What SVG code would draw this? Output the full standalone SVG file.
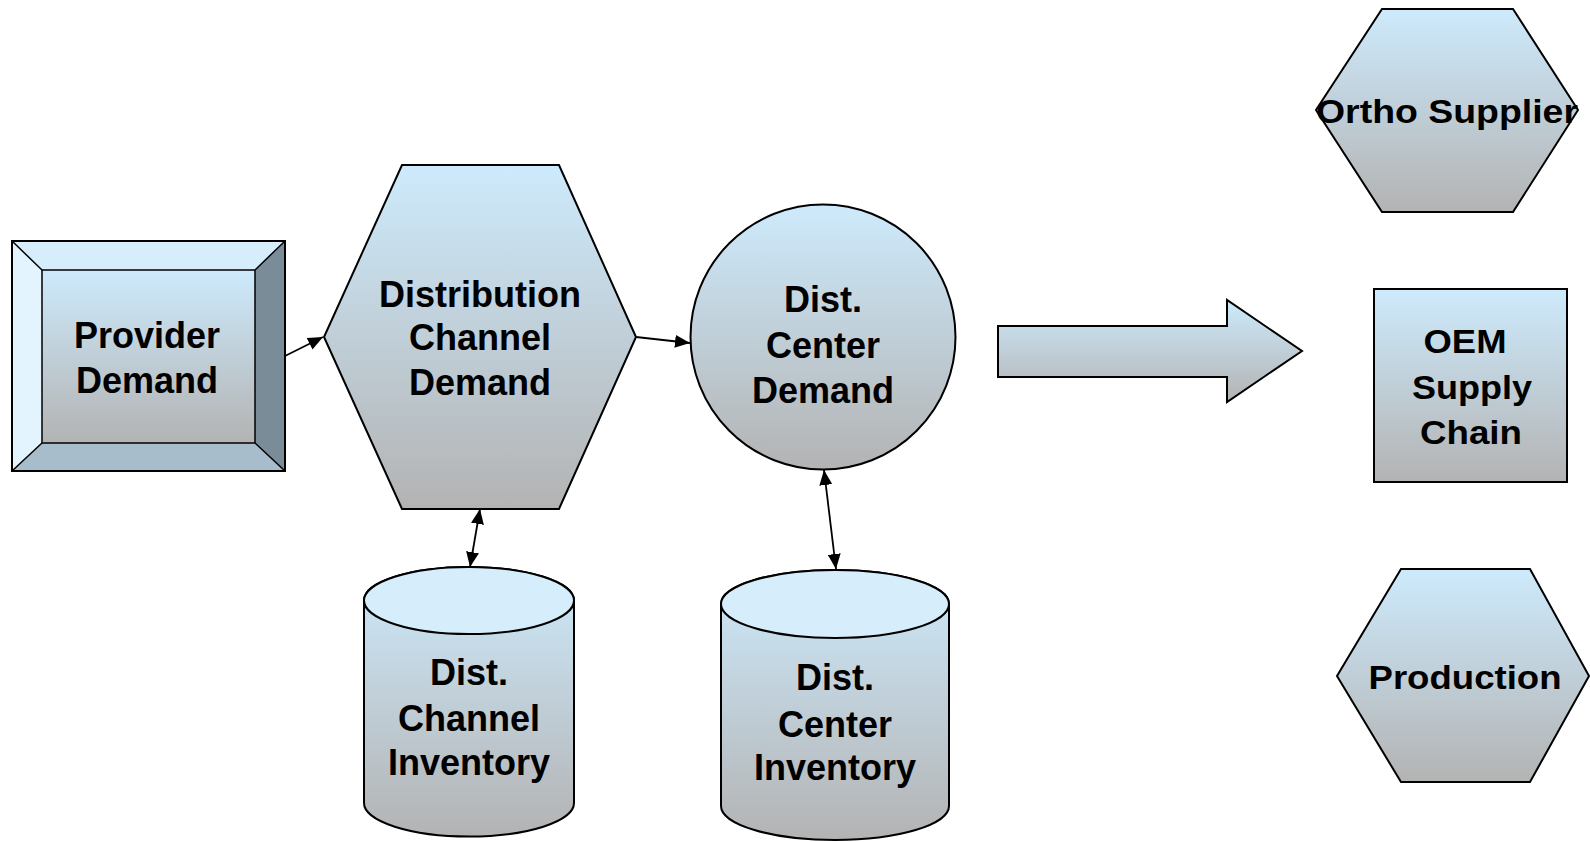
<svg xmlns="http://www.w3.org/2000/svg" width="1590" height="842" viewBox="0 0 1590 842">
<defs>
<linearGradient id="g" x1="0" y1="0" x2="0" y2="1">
<stop offset="0" stop-color="#cdeafc"/>
<stop offset="1" stop-color="#b3b3b3"/>
</linearGradient>
<marker id="ah" viewBox="0 0 15 13" refX="15" refY="6.5" markerWidth="15" markerHeight="13" markerUnits="userSpaceOnUse" orient="auto-start-reverse">
<path d="M0,0 L15,6.5 L0,13 Z" fill="#000"/>
</marker>
<style>
.s{fill:url(#g);stroke:#000;stroke-width:2}
.t{font-family:"Liberation Sans",Arial,sans-serif;font-weight:bold;font-size:36px;fill:#000;text-anchor:middle}
.r{font-size:34px}
.c{fill:none;stroke:#000;stroke-width:1.8}
</style>
</defs>
<rect width="1590" height="842" fill="#fff"/>
<g id="provider-demand">
<polygon points="12,241 285,241 255,270 42,270" fill="#d6edfb"/>
<polygon points="12,241 42,270 42,443 12,471" fill="#e3f4fe"/>
<polygon points="285,241 285,471 255,443 255,270" fill="#7a8c97"/>
<polygon points="12,471 42,443 255,443 285,471" fill="#a7bdcc"/>
<rect x="42" y="270" width="213" height="173" fill="url(#g)"/>
<rect x="12" y="241" width="273" height="230" fill="none" stroke="#000" stroke-width="2"/>
<rect x="42" y="270" width="213" height="173" fill="none" stroke="#000" stroke-width="1.5"/>
<path d="M12,241 L42,270 M285,241 L255,270 M12,471 L42,443 M285,471 L255,443" stroke="#000" stroke-width="1.5"/>
<text class="t" x="147" y="348">Provider</text>
<text class="t" x="147" y="393">Demand</text>
</g>
<g id="distribution-channel-demand">
<polygon class="s" points="402,165 559,165 636,337 559,509 402,509 324,337"/>
<text class="t" x="480" y="307">Distribution</text>
<text class="t" x="480" y="350">Channel</text>
<text class="t" x="480" y="395">Demand</text>
</g>
<g id="dist-center-demand">
<circle class="s" cx="823" cy="337" r="132.5"/>
<text class="t" x="823" y="312">Dist.</text>
<text class="t" x="823" y="358">Center</text>
<text class="t" x="823" y="403">Demand</text>
</g>
<g id="dist-channel-inventory">
<path class="s" d="M364,600.5 L364,803 A105,33.5 0 0 0 574,803 L574,600.5 A105,33.5 0 0 0 364,600.5 Z"/>
<ellipse cx="469" cy="600.5" rx="105" ry="33.5" fill="#d6eefc" stroke="#000" stroke-width="2"/>
<text class="t" x="469" y="685">Dist.</text>
<text class="t" x="469" y="731">Channel</text>
<text class="t" x="469" y="775">Inventory</text>
</g>
<g id="dist-center-inventory">
<path class="s" d="M721,604 L721,806 A114,34 0 0 0 949,806 L949,604 A114,34 0 0 0 721,604 Z"/>
<ellipse cx="835" cy="604" rx="114" ry="34" fill="#d6eefc" stroke="#000" stroke-width="2"/>
<text class="t" x="835" y="690">Dist.</text>
<text class="t" x="835" y="737">Center</text>
<text class="t" x="835" y="780">Inventory</text>
</g>
<g id="big-arrow">
<polygon class="s" points="998,326 1227,326 1227,300 1302,351 1227,402 1227,377 998,377"/>
</g>
<g id="ortho-supplier">
<polygon class="s" points="1382,9 1513,9 1578,110 1513,212 1382,212 1316,110"/>
<text class="t r" x="1447" y="123" textLength="262" lengthAdjust="spacingAndGlyphs">Ortho Supplier</text>
</g>
<g id="oem-supply-chain">
<rect class="s" x="1374" y="289" width="193" height="193"/>
<text class="t r" x="1465" y="353" textLength="83" lengthAdjust="spacingAndGlyphs">OEM</text>
<text class="t r" x="1472" y="399" textLength="120" lengthAdjust="spacingAndGlyphs">Supply</text>
<text class="t r" x="1471" y="444" textLength="102" lengthAdjust="spacingAndGlyphs">Chain</text>
</g>
<g id="production">
<polygon class="s" points="1401,569 1530,569 1589,676 1530,782 1401,782 1337,676"/>
<text class="t r" x="1465" y="689" textLength="193" lengthAdjust="spacingAndGlyphs">Production</text>
</g>
<g id="connectors">
<line class="c" x1="285" y1="356" x2="323" y2="337" marker-end="url(#ah)"/>
<line class="c" x1="636" y1="337" x2="690" y2="343" marker-end="url(#ah)"/>
<line class="c" x1="480" y1="509" x2="470" y2="567" marker-start="url(#ah)" marker-end="url(#ah)"/>
<line class="c" x1="824" y1="470" x2="836" y2="569" marker-start="url(#ah)" marker-end="url(#ah)"/>
</g>
</svg>
